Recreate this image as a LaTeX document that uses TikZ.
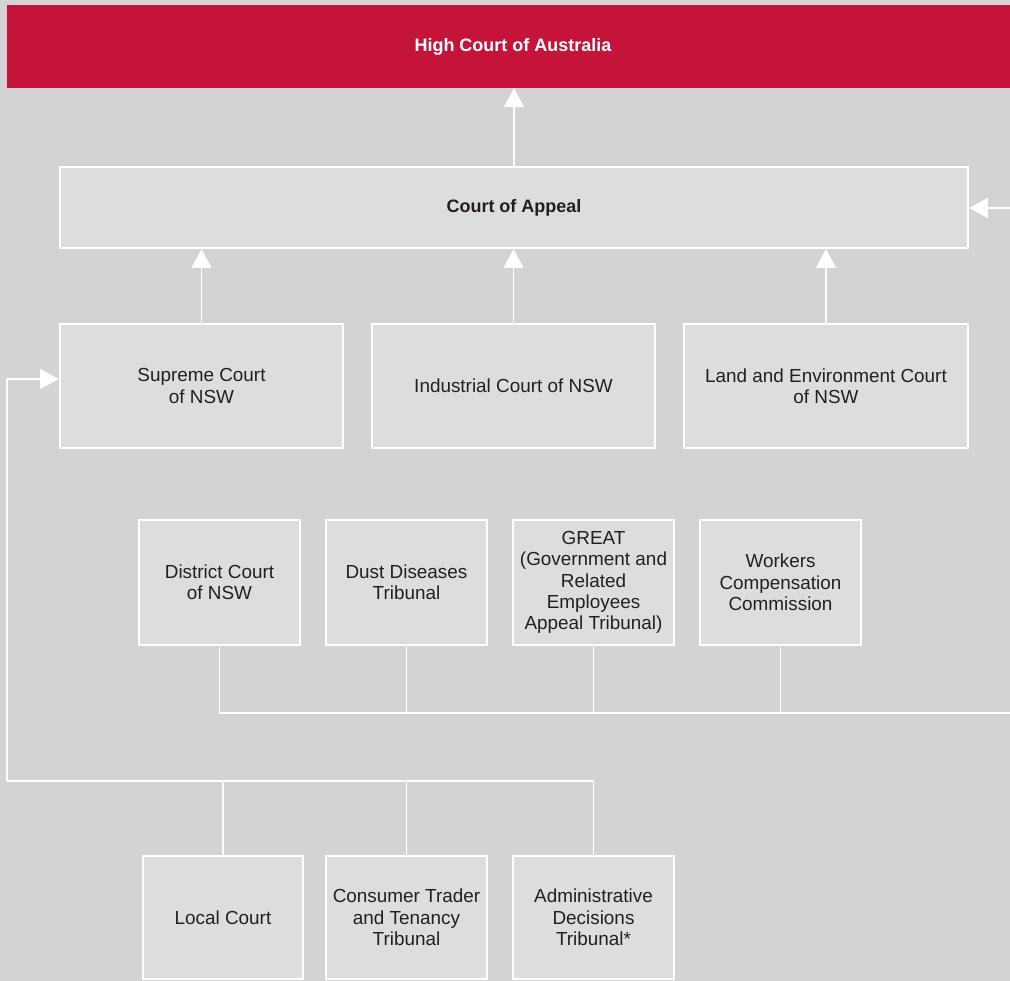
\documentclass[tikz,border=0pt]{standalone}
\usepackage{fontspec}
\setmainfont{Liberation Sans}
\usetikzlibrary{arrows.meta}
\definecolor{bg}{HTML}{D2D3D5}
\definecolor{boxfill}{HTML}{DCDDDF}
\definecolor{hcred}{HTML}{C5143A}
\definecolor{txt}{HTML}{231F20}
\tikzset{
  court/.style={rectangle, draw=white, line width=2pt, fill=boxfill, text=txt,
    align=center, inner sep=0pt, font=\fontsize{18.9}{21.3}\selectfont},
  conn/.style={draw=white, line width=1.5pt},
  arr/.style={conn, -{Triangle[width=20pt,length=19pt,fill=white]}},
}
\begin{document}
\begin{tikzpicture}[x=1pt,y=-1pt]
\fill[bg] (0,0) rectangle (1010,981);
\useasboundingbox (0,0) rectangle (1010,981);

\node[rectangle, fill=hcred, text=white, inner sep=0pt, minimum width=1003pt, minimum height=83pt,
  font=\fontsize{18}{21.3}\selectfont\bfseries] (red) at (508.5,46.5) {\hspace*{9pt}High Court of Australia};

\node[court, minimum width=908pt, minimum height=81pt, font=\fontsize{18}{21.3}\selectfont\bfseries] (appeal) at (514,207.5) {Court of Appeal};

\node[court, minimum width=283pt, minimum height=124pt] (supreme) at (201.5,386) {Supreme Court\\of NSW};
\node[court, minimum width=283pt, minimum height=124pt] (industrial) at (513.5,386) {Industrial Court of NSW};
\node[court, minimum width=284pt, minimum height=124pt] (land) at (826,386) {Land and Environment Court\\of NSW};

\node[court, minimum width=161pt, minimum height=125pt] (district) at (219.5,582.5) {District Court\\of NSW};
\node[court, minimum width=161pt, minimum height=125pt] (dust) at (406.5,582.5) {Dust Diseases\\Tribunal};
\node[court, minimum width=161pt, minimum height=125pt] (great) at (593.5,582.5) {GREAT\\(Government and\\Related\\Employees\\Appeal Tribunal)};
\node[court, minimum width=161pt, minimum height=125pt] (workers) at (780.5,582.5) {Workers\\Compensation\\Commission};

\node[court, minimum width=160pt, minimum height=123pt] (local) at (223,917.5) {Local Court};
\node[court, minimum width=161pt, minimum height=123pt] (consumer) at (406.5,917.5) {Consumer Trader\\and Tenancy\\Tribunal};
\node[court, minimum width=161pt, minimum height=123pt] (admin) at (593.5,917.5) {Administrative\\Decisions\\Tribunal*};

\coordinate (busR) at (1012,713);
\coordinate (rightTop) at (1012,208);
\coordinate (busL) at (7,781);
\coordinate (turnL) at (7,379);

% arrows into Court of Appeal and High Court
\draw[arr] (appeal.north) -- (appeal.north |- red.south);
\draw[arr] (supreme.north) -- (supreme.north |- appeal.south);
\draw[arr] (industrial.north) -- (industrial.north |- appeal.south);
\draw[arr] (land.north) -- (land.north |- appeal.south);

% middle-row bus to Court of Appeal
\draw[conn] (district.south) -- (district.south |- busR) -- (busR);
\draw[conn] (dust.south) -- (dust.south |- busR);
\draw[conn] (great.south) -- (great.south |- busR);
\draw[conn] (workers.south) -- (workers.south |- busR);
\draw[conn] (busR) -- (rightTop);
\draw[arr] (rightTop) -- (appeal.east |- rightTop);

% bottom-row bus to Supreme Court
\draw[conn] (admin.north) -- (admin.north |- busL) -- (busL) -- (turnL);
\draw[conn] (local.north) -- (local.north |- busL);
\draw[conn] (consumer.north) -- (consumer.north |- busL);
\draw[arr] (turnL) -- (supreme.west |- turnL);
\end{tikzpicture}
\end{document}
